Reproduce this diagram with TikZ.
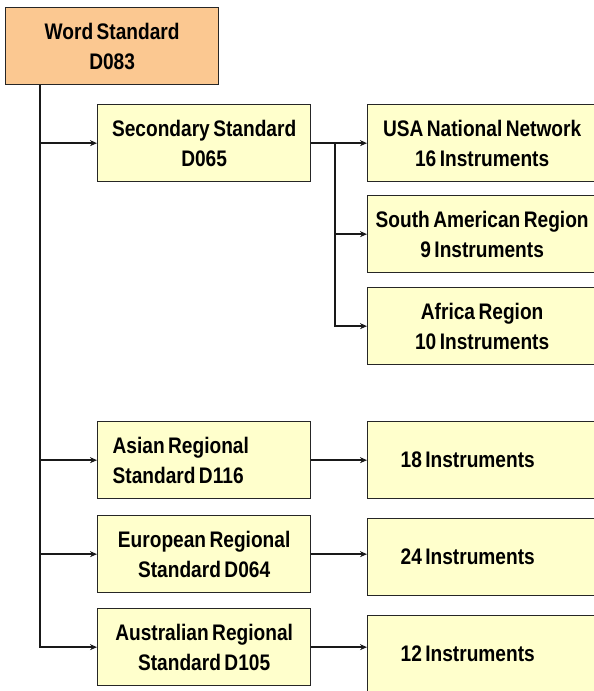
\documentclass[tikz,border=0pt]{standalone}
\usepackage{fontspec}
\setmainfont{Liberation Sans}[FakeStretch=0.85,WordSpace=0.65]
\usetikzlibrary{arrows.meta,calc}
\definecolor{arancio}{HTML}{FBC891}
\definecolor{giallino}{HTML}{FFFFCC}
\tikzset{
>={Stealth[length=7pt,width=6pt]},
std node/.style={draw=black!85,line width=1.3pt,fill=giallino,anchor=north west,
  minimum width=213pt,minimum height=77pt,inner sep=0pt,align=center,
  font=\bfseries\fontsize{22.5}{30}\selectfont},
net node/.style={std node,minimum width=229pt},
left text/.style={align=flush left,inner xsep=#1,text width=213pt-2*#1},
ramo/.style={->,line width=2.2pt,black!90}}

\begin{document}
\begin{tikzpicture}[x=1pt,y=-1pt]
\useasboundingbox (0,0) rectangle (594,691);

\node[std node,fill=arancio] (word) at (5,7) {Word Standard\\D083};
\node[std node] (second) at (97,104) {Secondary Standard\\D065};
\node[std node,left text=15pt] (asia) at (97,421) {Asian Regional\\Standard D116};
\node[std node] (europe) at (97,515) {European Regional\\Standard D064};
\node[std node] (austr) at (97,608) {Australian Regional\\Standard D105};

\node[net node] (usa) at (367,104) {USA National Network\\16 Instruments};
\node[net node] (south) at (367,195) {South American Region\\9 Instruments};
\node[net node] (africa) at (367,287) {Africa Region\\10 Instruments};
\node[net node,text width=179pt,left text=25pt] (n18) at (367,421) {18 Instruments};
\node[net node,text width=179pt,left text=25pt] (n24) at (367,518) {24 Instruments};
\node[net node,text width=179pt,left text=25pt] (n12) at (367,615) {12 Instruments};

\coordinate (tronco) at ($(word.south west)+(35,0)$);
\coordinate (split) at ($(second.east)+(24,0)$);

\draw[ramo] (tronco) |- (second.west);
\draw[ramo] (tronco) |- (asia.west);
\draw[ramo] (tronco) |- (europe.west);
\draw[ramo] (tronco) |- (austr.west);

\draw[ramo] (second.east) -- (usa.west);
\draw[ramo] (split) |- (south.west);
\draw[ramo] (split) |- (africa.west);

\draw[ramo] (asia.east) -- (asia.east -| n18.west);
\draw[ramo] (europe.east) -- (europe.east -| n24.west);
\draw[ramo] (austr.east) -- (austr.east -| n12.west);

\end{tikzpicture}
\end{document}
